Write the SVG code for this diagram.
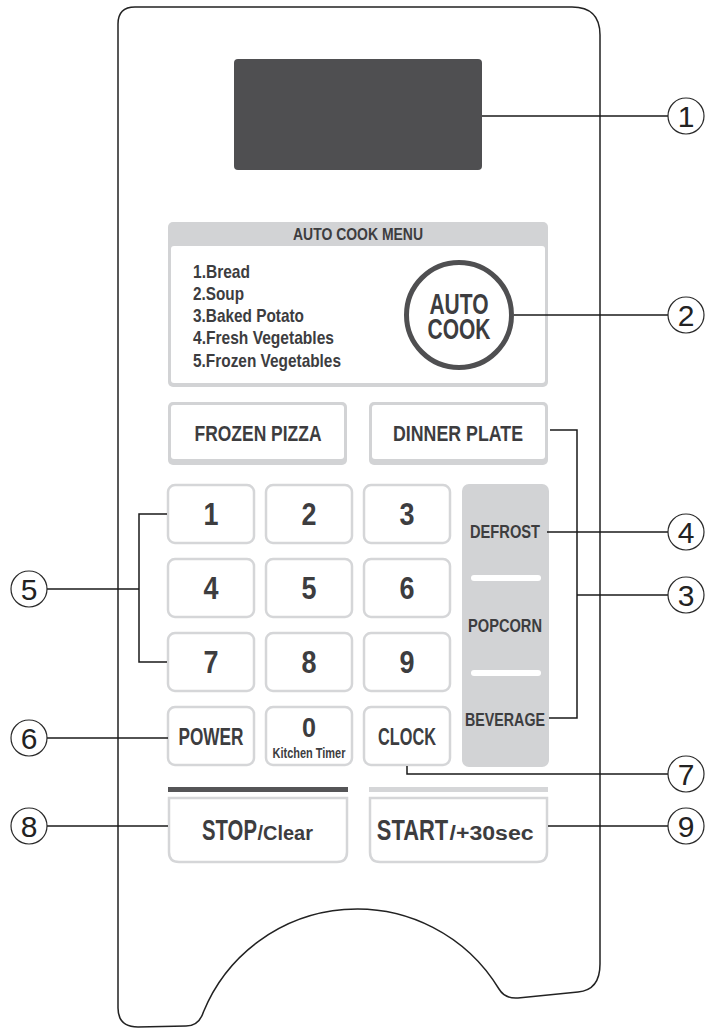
<svg xmlns="http://www.w3.org/2000/svg" width="706" height="1028" viewBox="0 0 706 1028">
<style>
.lbl{font-family:'Liberation Sans',Arial,sans-serif;font-weight:bold;fill:#3d3d3f;text-anchor:middle}
.lft{text-anchor:start}
.key{fill:#fff;stroke:#d5d6d8;stroke-width:2.5}
.gray{fill:#d2d3d5}
.co{fill:#fff;stroke:#2a2a2a;stroke-width:1.2}
.num{font-family:'Liberation Sans',Arial,sans-serif;font-size:30px;fill:#222;text-anchor:middle}
.ln{fill:none;stroke:#1a1a1a;stroke-width:1.5}
</style>
<rect width="706" height="1028" fill="#fff"/>
<g id="panel">
<path d="M118 1008 L118 24 Q118 7 135 7 L572 7 Q600 7 600 35 L600 964 Q600 990 578 992 L518 998 Q505 999 499 989 A166 166 0 0 0 203.4 1012 Q199 1026 186 1026 L138 1027 Q118 1027 118 1008 Z" fill="#fff" stroke="#222" stroke-width="1.5"/>
</g>
<g id="display">
<rect x="234" y="59" width="248" height="111" rx="4" fill="#4f4f51"/>
</g>
<g id="auto-cook-menu">
<rect x="168" y="222" width="380" height="165" rx="5" class="gray"/>
<rect x="171" y="246" width="374" height="137" rx="3" fill="#fff"/>
<text x="358" y="240" class="lbl" font-size="17" textLength="130" lengthAdjust="spacingAndGlyphs">AUTO COOK MENU</text>
<text x="193" y="278" class="lbl lft" font-size="19" textLength="57" lengthAdjust="spacingAndGlyphs">1.Bread</text>
<text x="193" y="300" class="lbl lft" font-size="19" textLength="51" lengthAdjust="spacingAndGlyphs">2.Soup</text>
<text x="193" y="322" class="lbl lft" font-size="19" textLength="111" lengthAdjust="spacingAndGlyphs">3.Baked Potato</text>
<text x="193" y="344" class="lbl lft" font-size="19" textLength="141" lengthAdjust="spacingAndGlyphs">4.Fresh Vegetables</text>
<text x="193" y="367" class="lbl lft" font-size="19" textLength="148" lengthAdjust="spacingAndGlyphs">5.Frozen Vegetables</text>
</g>
<g id="auto-cook">
<circle cx="459" cy="315" r="52.5" fill="#fff" stroke="#4f4f51" stroke-width="5"/>
<text class="lbl" font-size="30" transform="translate(459 0) scale(0.7 1)"><tspan x="0" y="314">AUTO</tspan><tspan x="0" y="339">COOK</tspan></text>
</g>
<g id="frozen-pizza">
<rect x="168" y="402" width="179" height="63" rx="5" class="gray"/>
<rect x="171" y="405" width="173" height="54" rx="3" fill="#fff"/>
<text x="258" y="441" class="lbl" font-size="22" textLength="127" lengthAdjust="spacingAndGlyphs">FROZEN PIZZA</text>
</g>
<g id="dinner-plate">
<rect x="369" y="402" width="179" height="63" rx="5" class="gray"/>
<rect x="372" y="405" width="173" height="54" rx="3" fill="#fff"/>
<text x="458" y="441" class="lbl" font-size="22" textLength="130" lengthAdjust="spacingAndGlyphs">DINNER PLATE</text>
</g>
<g id="key-1"><rect x="168" y="485" width="86" height="58" rx="7" class="key"/><text x="211" y="525" class="lbl" font-size="31" textLength="15" lengthAdjust="spacingAndGlyphs">1</text></g>
<g id="key-2"><rect x="266" y="485" width="86" height="58" rx="7" class="key"/><text x="309" y="525" class="lbl" font-size="31" textLength="15" lengthAdjust="spacingAndGlyphs">2</text></g>
<g id="key-3"><rect x="364" y="485" width="86" height="58" rx="7" class="key"/><text x="407" y="525" class="lbl" font-size="31" textLength="15" lengthAdjust="spacingAndGlyphs">3</text></g>
<g id="key-4"><rect x="168" y="559" width="86" height="58" rx="7" class="key"/><text x="211" y="599" class="lbl" font-size="31" textLength="15" lengthAdjust="spacingAndGlyphs">4</text></g>
<g id="key-5"><rect x="266" y="559" width="86" height="58" rx="7" class="key"/><text x="309" y="599" class="lbl" font-size="31" textLength="15" lengthAdjust="spacingAndGlyphs">5</text></g>
<g id="key-6"><rect x="364" y="559" width="86" height="58" rx="7" class="key"/><text x="407" y="599" class="lbl" font-size="31" textLength="15" lengthAdjust="spacingAndGlyphs">6</text></g>
<g id="key-7"><rect x="168" y="633" width="86" height="58" rx="7" class="key"/><text x="211" y="673" class="lbl" font-size="31" textLength="15" lengthAdjust="spacingAndGlyphs">7</text></g>
<g id="key-8"><rect x="266" y="633" width="86" height="58" rx="7" class="key"/><text x="309" y="673" class="lbl" font-size="31" textLength="15" lengthAdjust="spacingAndGlyphs">8</text></g>
<g id="key-9"><rect x="364" y="633" width="86" height="58" rx="7" class="key"/><text x="407" y="673" class="lbl" font-size="31" textLength="15" lengthAdjust="spacingAndGlyphs">9</text></g>
<g id="power"><rect x="168" y="707" width="86" height="58" rx="7" class="key"/><text x="211" y="745" class="lbl" font-size="23" textLength="65" lengthAdjust="spacingAndGlyphs">POWER</text></g>
<g id="key-0"><rect x="266" y="707" width="86" height="58" rx="7" class="key"/><text x="309" y="737" class="lbl" font-size="27" textLength="14" lengthAdjust="spacingAndGlyphs">0</text><text x="309" y="758" class="lbl" font-size="14" textLength="73" lengthAdjust="spacingAndGlyphs">Kitchen Timer</text></g>
<g id="clock"><rect x="364" y="707" width="86" height="58" rx="7" class="key"/><text x="407" y="745" class="lbl" font-size="23" textLength="58" lengthAdjust="spacingAndGlyphs">CLOCK</text></g>
<g id="defrost-popcorn-beverage">
<rect x="462" y="484" width="87" height="283" rx="7" class="gray"/>
<line x1="474" y1="578" x2="538" y2="578" stroke="#fff" stroke-width="6" stroke-linecap="round"/>
<line x1="474" y1="673" x2="538" y2="673" stroke="#fff" stroke-width="6" stroke-linecap="round"/>
<text x="505" y="538" class="lbl" font-size="19" textLength="70" lengthAdjust="spacingAndGlyphs">DEFROST</text>
<text x="505" y="632" class="lbl" font-size="19" textLength="74" lengthAdjust="spacingAndGlyphs">POPCORN</text>
<text x="505" y="726" class="lbl" font-size="19" textLength="80" lengthAdjust="spacingAndGlyphs">BEVERAGE</text>
</g>
<g id="stop">
<rect x="168" y="787" width="180" height="5" fill="#555557"/>
<path d="M169 798 L347 798 L347 852 Q347 862 337 862 L179 862 Q169 862 169 852 Z" class="key"/>
<text class="lbl" font-size="29" transform="translate(229.5 840) scale(0.7 1)">STOP</text>
<text class="lbl lft" font-size="21" transform="translate(257.5 840) scale(0.95 1)">/Clear</text>
</g>
<g id="start">
<rect x="369" y="787" width="179" height="5" fill="#d5d6d8"/>
<path d="M370 798 L547 798 L547 852 Q547 862 537 862 L380 862 Q370 862 370 852 Z" class="key"/>
<text class="lbl" font-size="29" transform="translate(412.5 840) scale(0.755 1)">START</text>
<text class="lbl lft" font-size="21" transform="translate(449.5 840) scale(1.1 1)">/+30sec</text>
</g>
<g id="connectors">
<path class="ln" d="M482 116 H668"/>
<path class="ln" d="M514 315 H668"/>
<path class="ln" d="M550 430 H577 V718 H549"/>
<path class="ln" d="M577 595 H668"/>
<path class="ln" d="M547 532 H668"/>
<path class="ln" d="M47 589 H139"/>
<path class="ln" d="M167 514 H139 V662 H167"/>
<path class="ln" d="M47 738 H168"/>
<path class="ln" d="M407 766 V774 H668"/>
<path class="ln" d="M47 826 H168"/>
<path class="ln" d="M548 826 H668"/>
</g>
<g id="callout-1"><circle cx="686" cy="116" r="18" class="co"/><text x="686" y="127" class="num">1</text></g>
<g id="callout-2"><circle cx="686" cy="315" r="18" class="co"/><text x="686" y="326" class="num">2</text></g>
<g id="callout-3"><circle cx="686" cy="595" r="18" class="co"/><text x="686" y="606" class="num">3</text></g>
<g id="callout-4"><circle cx="686" cy="532" r="18" class="co"/><text x="686" y="543" class="num">4</text></g>
<g id="callout-5"><circle cx="29" cy="589" r="18" class="co"/><text x="29" y="600" class="num">5</text></g>
<g id="callout-6"><circle cx="29" cy="738" r="18" class="co"/><text x="29" y="749" class="num">6</text></g>
<g id="callout-7"><circle cx="686" cy="774" r="18" class="co"/><text x="686" y="785" class="num">7</text></g>
<g id="callout-8"><circle cx="29" cy="826" r="18" class="co"/><text x="29" y="837" class="num">8</text></g>
<g id="callout-9"><circle cx="686" cy="826" r="18" class="co"/><text x="686" y="837" class="num">9</text></g>
</svg>
